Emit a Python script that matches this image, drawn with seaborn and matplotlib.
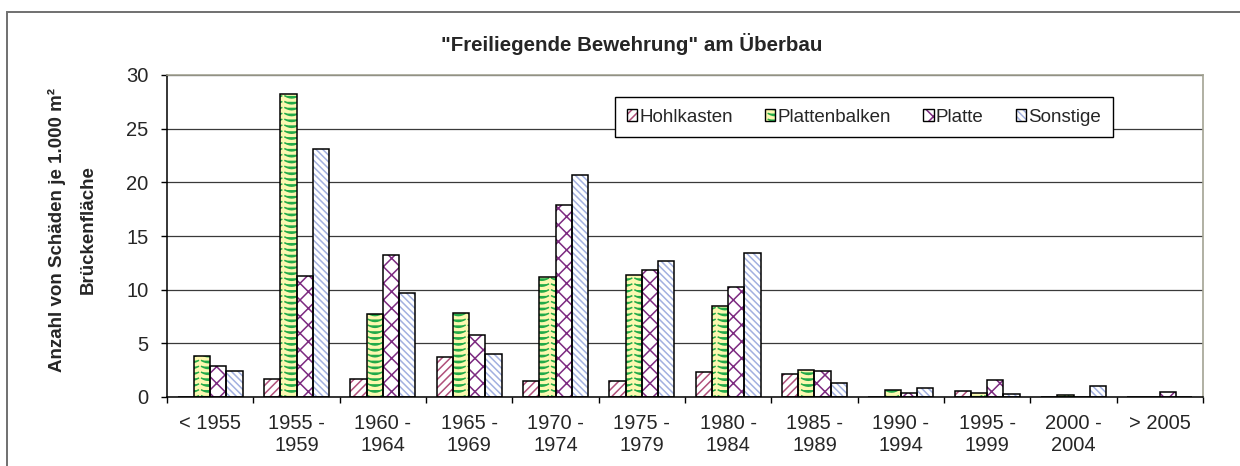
import warnings

import numpy as np
import pandas as pd
import matplotlib
matplotlib.use("Agg")
import matplotlib.pyplot as plt
import matplotlib.patches as patches
from matplotlib import hatch as mhatch
from matplotlib.path import Path
import seaborn as sns

warnings.filterwarnings("ignore")

# ------------------------------------------------------------
# Data
# ------------------------------------------------------------
CATEGORIES = [
    "< 1955", "1955 -\n1959", "1960 -\n1964", "1965 -\n1969",
    "1970 -\n1974", "1975 -\n1979", "1980 -\n1984", "1985 -\n1989",
    "1990 -\n1994", "1995 -\n1999", "2000 -\n2004", "> 2005",
]
SERIES = ["Hohlkasten", "Plattenbalken", "Platte", "Sonstige"]

HOHLKASTEN = [0, 1.65, 1.65, 3.76, 1.52, 1.49, 2.36, 2.14, 0, 0.53, 0, 0]
PLATTENBALKEN = [3.82, 28.2, 7.73, 7.8, 11.18, 11.4, 8.48, 2.52, 0.65, 0.37, 0.22, 0]
PLATTE = [2.86, 11.24, 13.2, 5.78, 17.86, 11.86, 10.28, 2.42, 0.4, 1.55, 0, 0.5]
SONSTIGE = [2.42, 23.1, 9.66, 4.04, 20.65, 12.64, 13.45, 1.27, 0.87, 0.28, 1.02, 0]

Y_TICKS = [0, 5, 10, 15, 20, 25, 30]

FACE = {"Hohlkasten": "white", "Plattenbalken": "#fcf8b0", "Platte": "white", "Sonstige": "white"}
HATCH_COLOR = {"Hohlkasten": "#b0507a", "Plattenbalken": "#22aa48", "Platte": "#7c2a80", "Sonstige": "#a2b0e0"}
HATCH = {"Hohlkasten": "////", "Plattenbalken": "~", "Platte": "xx", "Sonstige": "\\\\\\\\\\"}


# custom wave hatch for "Plattenbalken"
class WaveHatch(mhatch.HatchPatternBase):
    def __init__(self, hatch, density):
        n = hatch.count("~")
        self.rows = 17 * n
        self.cols = 6 * n
        self.pts = 7
        self.num_vertices = self.rows * self.cols * self.pts

    def set_vertices_and_codes(self, vertices, codes):
        t = np.linspace(0.1, 0.9, self.pts)
        idx = 0
        for r in range(self.rows):
            y0 = (r + 0.85) / self.rows
            for c in range(self.cols):
                vertices[idx:idx + self.pts, 0] = (c + t) / self.cols
                vertices[idx:idx + self.pts, 1] = y0 - 0.5 / self.rows * np.sin(np.pi * t)
                codes[idx] = Path.MOVETO
                codes[idx + 1:idx + self.pts] = Path.LINETO
                idx += self.pts


mhatch._hatch_types.append(WaveHatch)


def main():
    df = pd.DataFrame({
        "Baujahr": CATEGORIES * 4,
        "Typ": [s for s in SERIES for _ in CATEGORIES],
        "Wert": HOHLKASTEN + PLATTENBALKEN + PLATTE + SONSTIGE,
    })

    sns.set_theme(style="white")
    plt.rcParams["font.family"] = ["Liberation Sans", "DejaVu Sans"]
    plt.rcParams["hatch.linewidth"] = 1.1

    fig = plt.figure(figsize=(12.4, 4.66), dpi=100)
    ax = fig.add_axes([167 / 1240, 1 - 397 / 466, (1203 - 167) / 1240, (397 - 75) / 466])

    sns.barplot(
        data=df, x="Baujahr", y="Wert", hue="Typ",
        order=CATEGORIES, hue_order=SERIES,
        palette=FACE, saturation=1, width=0.75,
        errorbar=None, legend=False, ax=ax,
    )

    for name, cont in zip(SERIES, ax.containers):
        for bar in cont:
            bar.set_hatch(HATCH[name])
            bar.set_edgecolor(HATCH_COLOR[name])
            bar.set_linewidth(0)
            x, y = bar.get_xy()
            outline = patches.Rectangle(
                (x, y), bar.get_width(), bar.get_height(),
                fill=False, edgecolor="black", linewidth=1.1, zorder=3
            )
            ax.add_patch(outline)

    # axes styling
    ax.set_xlim(-0.5, len(CATEGORIES) - 0.5)
    ax.set_ylim(0, 30)
    ax.set_yticks(Y_TICKS)
    ax.set_yticklabels([str(v) for v in Y_TICKS], fontsize=14.5)
    ax.yaxis.grid(True, color="#3a3a3a", linewidth=0.9)
    ax.set_axisbelow(True)

    ax.set_xticks(np.arange(-0.5, len(CATEGORIES), 1))
    ax.set_xticklabels([])
    ax.set_xticks(np.arange(len(CATEGORIES)), minor=True)
    ax.set_xticklabels(CATEGORIES, minor=True, fontsize=14.5, linespacing=1.2)
    ax.tick_params(axis="x", which="major", direction="out", length=4.5, width=1, color="black", bottom=True)
    ax.tick_params(axis="x", which="minor", length=0, pad=12.5)
    ax.tick_params(axis="y", direction="out", length=4.5, width=1, color="black", left=True, pad=9)

    ax.set_xlabel("")
    ax.set_ylabel("")

    for side in ["left", "bottom"]:
        ax.spines[side].set_color("black")
        ax.spines[side].set_linewidth(1.1)
    for side in ["top", "right"]:
        ax.spines[side].set_color("#a3a393")
        ax.spines[side].set_linewidth(1.2)

    # legend: hatched square with a black outline on top
    handles = [
        (
            patches.Patch(facecolor=FACE[s], edgecolor=HATCH_COLOR[s], hatch=HATCH[s], linewidth=0),
            patches.Patch(fill=False, edgecolor="black", linewidth=1.0),
        )
        for s in SERIES
    ]
    leg = ax.legend(
        handles=handles, labels=SERIES, loc="upper left", ncol=4,
        bbox_to_anchor=(615 / 1240, 1 - 97 / 466), bbox_transform=fig.transFigure,
        fontsize=13.5, frameon=True, fancybox=False, framealpha=1,
        edgecolor="black", borderpad=0.62, borderaxespad=0,
        handlelength=0.55, handleheight=0.55, handletextpad=0.12, columnspacing=1.72,
    )
    leg.get_frame().set_linewidth(1.0)

    # title and y label
    fig.text(632 / 1240, 1 - 44 / 466, "\"Freiliegende Bewehrung\" am Überbau",
             ha="center", va="center", fontsize=14.8, fontweight="bold")
    fig.text(57 / 1240, 1 - 230 / 466, "Anzahl von Schäden je 1.000 m²",
             ha="center", va="center", rotation=90, fontsize=13.5, fontweight="bold")
    fig.text(88 / 1240, 1 - 230 / 466, "Brückenfläche",
             ha="center", va="center", rotation=90, fontsize=13.5, fontweight="bold")

    # chart frame
    frame = patches.Rectangle(
        (7 / 1240, -0.2), 1.2, 1.2 - 12 / 466,
        transform=fig.transFigure, fill=False, edgecolor="#707070", linewidth=1.4
    )
    fig.add_artist(frame)

    fig.savefig("out.png", dpi=100)
    plt.close(fig)


if __name__ == "__main__":
    main()
